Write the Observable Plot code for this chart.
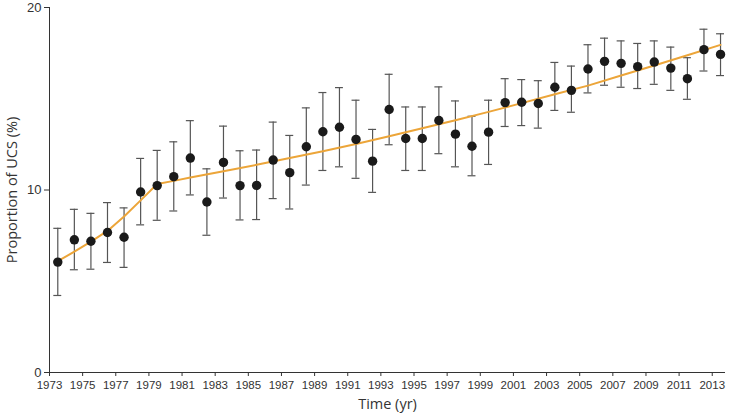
<!DOCTYPE html>
<html>
<head>
<meta charset="utf-8">
<script src="https://cdn.jsdelivr.net/npm/d3@7"></script>
<script src="https://cdn.jsdelivr.net/npm/@observablehq/plot@0.6"></script>
<style>
  html, body { margin: 0; padding: 0; background: #fff; }
  #chart svg { display: block; }
</style>
</head>
<body>
<div id="chart"></div>
<script>
const years = d3.range(1973, 2014);
const proportion = [6.05, 7.27, 7.19, 7.67, 7.41, 9.89, 10.24, 10.73, 11.75, 9.34, 11.51, 10.24, 10.25, 11.64, 10.95, 12.37, 13.19, 13.44, 12.77, 11.58, 14.41, 12.82, 12.82, 13.81, 13.06, 12.40, 13.17, 14.79, 14.81, 14.74, 15.63, 15.46, 16.63, 17.05, 16.94, 16.76, 17.01, 16.68, 16.10, 17.69, 17.43];
const upper = [7.9, 8.94, 8.72, 9.31, 9.02, 11.73, 12.17, 12.64, 13.8, 11.16, 13.5, 12.15, 12.19, 13.72, 12.99, 14.5, 15.34, 15.61, 14.92, 13.32, 16.34, 14.55, 14.55, 15.65, 14.88, 14.04, 14.92, 16.1, 16.05, 15.99, 16.99, 16.79, 17.96, 18.32, 18.17, 18.03, 18.17, 17.83, 17.25, 18.81, 18.56];
const lower = [4.22, 5.63, 5.66, 6.03, 5.76, 8.09, 8.34, 8.85, 9.73, 7.52, 9.56, 8.36, 8.38, 9.53, 8.96, 10.27, 11.07, 11.27, 10.64, 9.87, 12.48, 11.07, 11.07, 11.99, 11.27, 10.78, 11.4, 13.48, 13.53, 13.39, 14.36, 14.26, 15.32, 15.74, 15.63, 15.56, 15.79, 15.46, 14.97, 16.52, 16.27];

// fitted trend
const trendYears = [1973.5, 1974.5, 1975.5, 1976.5, 1977.5, 1978.5, 1979.5, 1980.5, 1981.5, 1983.5, 1985.5, 1987.5, 1989.5, 1991.5, 1993.5, 1995.5, 1997.5, 1999.5, 2001.5, 2003.5, 2005.5, 2007.5, 2009.5, 2011.5, 2013.5];
const trendValues = [6.1, 6.62, 7.17, 7.76, 8.55, 9.43, 10.33, 10.5, 10.68, 11.03, 11.38, 11.75, 12.12, 12.52, 12.95, 13.38, 13.82, 14.28, 14.76, 15.25, 15.72, 16.27, 16.82, 17.38, 17.95];

const xTicks = d3.range(1973, 2014, 2);
const yTicks = [0, 10, 20];

const data = years.map((yr, i) => ({x: yr + 0.5, v: proportion[i], lo: lower[i], hi: upper[i]}));
const trend = trendYears.map((t, i) => ({x: t, v: trendValues[i]}));

const capHalf = 0.24;
const barColor = "#555";
const axisColor = "#333";

const chart = Plot.plot({
  width: 730,
  height: 418,
  marginLeft: 49,
  marginRight: 5,
  marginTop: 7,
  marginBottom: 46,
  style: {fontFamily: "'Liberation Sans', Arial, sans-serif", color: axisColor, background: "#fff"},
  x: {domain: [1973, 2013.8]},
  y: {domain: [0, 20]},
  marks: [
    Plot.ruleX([1973], {y1: 0, y2: 20, stroke: axisColor, strokeWidth: 1}),
    Plot.ruleY([0], {x1: 1973, x2: 2013.8, stroke: axisColor, strokeWidth: 1}),
    Plot.axisX({ticks: xTicks, tickFormat: d => String(d), tickSize: 4, tickPadding: 4, fontSize: 11.5, stroke: axisColor, fill: axisColor,
      label: null}),
    Plot.axisY({ticks: yTicks, tickSize: 5, tickPadding: 3, fontSize: 13, stroke: axisColor, fill: axisColor, label: null}),
    Plot.ruleX(data, {x: "x", y1: "lo", y2: "hi", stroke: barColor, strokeWidth: 1.2}),
    Plot.ruleY(data, {y: "hi", x1: d => d.x - capHalf, x2: d => d.x + capHalf, stroke: barColor, strokeWidth: 1.2}),
    Plot.ruleY(data, {y: "lo", x1: d => d.x - capHalf, x2: d => d.x + capHalf, stroke: barColor, strokeWidth: 1.2}),
    Plot.line(trend, {x: "x", y: "v", stroke: "#eca539", strokeWidth: 2, curve: "linear"}),
    Plot.dot(data, {x: "x", y: "v", r: 4.7, fill: "#1a1a1a", stroke: "none"}),
    Plot.text(["Time (yr)"], {frameAnchor: "bottom", textAnchor: "middle", dy: 36, fontSize: "14.5px", fontFamily: "'Open Sans', sans-serif", fill: axisColor}),
    Plot.text(["Proportion of UCS (%)"], {frameAnchor: "left", textAnchor: "middle", dx: -37, rotate: -90, fontSize: "14.5px", fontFamily: "'Open Sans', sans-serif", fill: axisColor})
  ]
});
document.getElementById("chart").appendChild(chart);
</script>
</body>
</html>
